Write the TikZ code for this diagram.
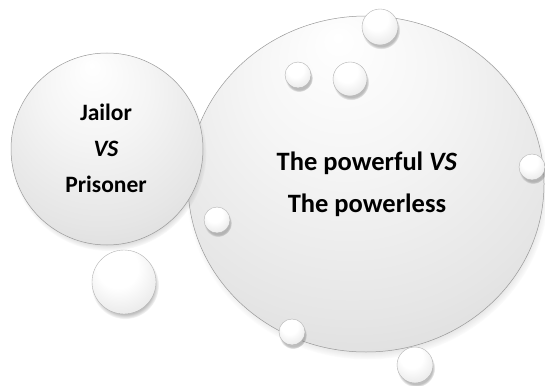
\documentclass[tikz,border=0pt]{standalone}
\usepackage{fontspec}
\setmainfont{Carlito}
\usetikzlibrary{shapes.geometric,shadows}

\pgfdeclareradialshading{bubblefill}{\pgfpoint{-4bp}{22bp}}{color(0bp)=(white); color(14bp)=(black!4); color(30bp)=(black!10); color(42bp)=(black!16); color(46bp)=(black!21); color(49bp)=(black!32); color(51bp)=(black!58); color(54bp)=(black!58)}
\pgfdeclareradialshading{pearlfill}{\pgfpoint{-7bp}{16bp}}{color(0bp)=(white); color(16bp)=(white); color(34bp)=(black!9); color(43bp)=(black!22); color(48bp)=(black!42); color(51bp)=(black!58); color(54bp)=(black!58)}

\tikzset{
  bigbubble/.style={draw=black!40, line width=0.5pt, shading=bubblefill, inner sep=0pt,
    circular drop shadow={shadow xshift=1.5pt, shadow yshift=-4pt, shadow scale=1.02, opacity=0.6}},
  pearl/.style={circle, draw=black!30, line width=0.4pt, shading=pearlfill, inner sep=0pt,
    minimum size=#1,
    circular drop shadow={shadow xshift=1pt, shadow yshift=-3pt, shadow scale=1.06, opacity=0.5}},
  caption/.style={font=\bfseries, align=center, text=black}
}

\begin{document}
\begin{tikzpicture}[x=1pt,y=-1pt]
        \useasboundingbox (0,0) rectangle (545,385);
        \node[bigbubble, ellipse, minimum width=356pt, minimum height=336pt] (powerbubble) at (366,184) {};
        \node[bigbubble, circle, minimum size=192pt] (jailbubble) at (107,149) {};
        \node[pearl=64pt] (lowpearl) at (124,282) {};
        \node[pearl=36pt] (toppearl) at (380,27) {};
        \node[pearl=26pt] (leftpearl) at (298,75) {};
        \node[pearl=34pt] (midpearl) at (350,79) {};
        \node[pearl=26pt] (rimright) at (532,167) {};
        \node[pearl=26pt] (rimleft) at (217,220) {};
        \node[pearl=26pt] (rimlow) at (292,332) {};
        \node[pearl=36pt] (bottompearl) at (415,365) {};
        \node[caption, font=\fontsize{23.5}{36}\selectfont\bfseries] (jailtext) at (106,148) {Jailor\\\textit{VS}\\Prisoner};
        \node[caption, font=\fontsize{26.5}{42}\selectfont\bfseries] (powertext) at (367,184) {The powerful \textit{VS}\\The powerless};
      \end{tikzpicture}
\end{document}
